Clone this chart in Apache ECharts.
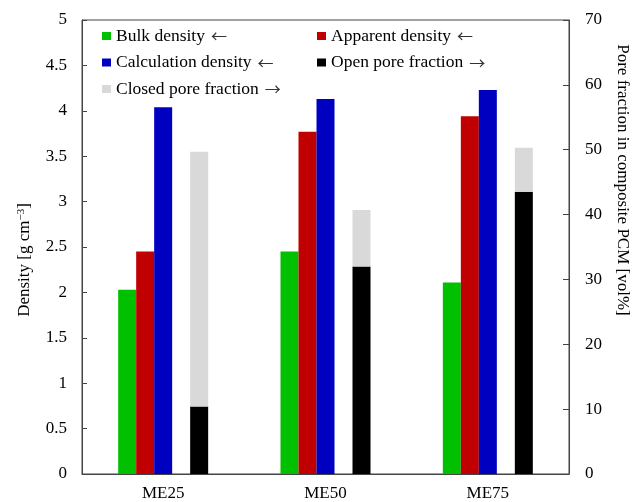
<!DOCTYPE html>
<html>
<head>
<meta charset="utf-8">
<script src="https://cdn.jsdelivr.net/npm/echarts@6/dist/echarts.min.js"></script>
<style>
  html, body { margin: 0; padding: 0; background: #fff; }
  #chart { width: 633px; height: 502px; }
</style>
</head>
<body>
<div id="chart"></div>
<script>
// Samples
const categories = ['ME25', 'ME50', 'ME75'];
// Densities [g cm^-3], left axis
const bulkDensity = [2.03, 2.45, 2.11];
const apparentDensity = [2.45, 3.77, 3.94];
const calculationDensity = [4.04, 4.13, 4.23];
// Pore fractions [vol%], right axis, stacked
const openPoreFraction = [10.4, 32.0, 43.5];
const closedPoreFraction = [39.3, 8.7, 6.8];

const FONT = '"Liberation Serif", "Times New Roman", serif';
const chart = echarts.init(document.getElementById('chart'), null, { renderer: 'canvas' });

// Legend entries: label text in serif, axis arrow in a wide thin glyph
const legendCommon = {
  orient: 'vertical', icon: 'rect', itemWidth: 9, itemHeight: 8, itemGap: 8.5,
  selectedMode: false, padding: 0,
  formatter: function (name) {
    const arrow = name.slice(-1);
    const label = name.slice(0, -2);
    return '{t|' + label + '}{a|' + arrow + '}';
  },
  textStyle: {
    color: '#000', lineHeight: 16,
    rich: {
      t: { fontFamily: FONT, fontSize: 17.5, color: '#000', lineHeight: 16 },
      a: { fontFamily: '"Noto Sans CJK JP", "DejaVu Sans", sans-serif', fontSize: 16, color: '#333', lineHeight: 16, padding: [0, 0, 0, 6] }
    }
  }
};

const BAR_W = 18;

chart.setOption({
  animation: false,
  backgroundColor: '#fff',
  grid: { left: 82, right: 64, top: 20, bottom: 27, show: true, borderColor: '#444', borderWidth: 1, containLabel: false },
  legend: [
    Object.assign({ left: 102, top: 27, data: ['Bulk density ←', 'Calculation density ←', 'Closed pore fraction →'] }, legendCommon),
    Object.assign({ left: 317, top: 27, data: ['Apparent density ←', 'Open pore fraction →'] }, legendCommon)
  ],
  xAxis: {
    type: 'category',
    data: categories,
    axisLine: { lineStyle: { color: '#444' } },
    axisTick: { show: false },
    axisLabel: { fontFamily: FONT, fontSize: 17, color: '#000', margin: 11 }
  },
  yAxis: [
    {
      type: 'value', min: 0, max: 5, interval: 0.5, position: 'left',
      axisLine: { show: true, lineStyle: { color: '#444' } },
      axisTick: { show: true, inside: true, length: 5, lineStyle: { color: '#444' } },
      splitLine: { show: false },
      axisLabel: { fontFamily: FONT, fontSize: 17, color: '#000', margin: 15 }
    },
    {
      type: 'value', min: 0, max: 70, interval: 10, position: 'right',
      axisLine: { show: true, lineStyle: { color: '#444' } },
      axisTick: { show: true, inside: true, length: 6, lineStyle: { color: '#444' } },
      splitLine: { show: false },
      axisLabel: { fontFamily: FONT, fontSize: 17, color: '#000', margin: 16 }
    }
  ],
  graphic: [
    {
      type: 'text', x: 25, y: 260, rotation: Math.PI / 2,
      style: {
        text: '{n|Density [g cm}{s|−3}{n|]}', align: 'center', verticalAlign: 'middle',
        rich: {
          n: { fontFamily: FONT, fontSize: 17, fill: '#000' },
          s: { fontFamily: FONT, fontSize: 11, fill: '#000', verticalAlign: 'top', padding: [0, 0, 8, 0] }
        }
      }
    },
    {
      type: 'text', x: 622, y: 180, rotation: -Math.PI / 2,
      style: {
        text: 'Pore fraction in composite PCM [vol%]', align: 'center', verticalAlign: 'middle',
        fontFamily: FONT, fontSize: 17, fill: '#000'
      }
    }
  ],
  series: [
    { name: 'Bulk density ←', type: 'bar', yAxisIndex: 0, data: bulkDensity, barWidth: BAR_W, barGap: '0%', itemStyle: { color: '#00C000' } },
    { name: 'Apparent density ←', type: 'bar', yAxisIndex: 0, data: apparentDensity, barWidth: BAR_W, barGap: '0%', itemStyle: { color: '#C00000' } },
    { name: 'Calculation density ←', type: 'bar', yAxisIndex: 0, data: calculationDensity, barWidth: BAR_W, barGap: '0%', itemStyle: { color: '#0000C0' } },
    // empty slot separating the density group from the pore-fraction column
    { name: 'spacer', type: 'bar', yAxisIndex: 0, data: ['-', '-', '-'], barWidth: BAR_W, barGap: '0%', silent: true },
    { name: 'Open pore fraction →', type: 'bar', yAxisIndex: 1, stack: 'pore', data: openPoreFraction, barWidth: BAR_W, barGap: '0%', itemStyle: { color: '#000000' } },
    { name: 'Closed pore fraction →', type: 'bar', yAxisIndex: 1, stack: 'pore', data: closedPoreFraction, barWidth: BAR_W, barGap: '0%', itemStyle: { color: '#D9D9D9' } }
  ]
});
</script>
</body>
</html>
